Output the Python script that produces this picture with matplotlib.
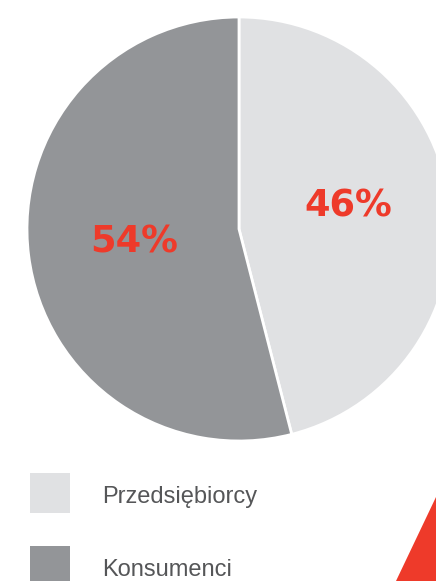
import matplotlib.pyplot as plt
from matplotlib.patches import Rectangle, Polygon

labels = ['Przedsiębiorcy', 'Konsumenci']
shares = [46, 54]
colors = ['#e0e1e3', '#939598']
accent = '#ee3a2a'

W, H = 436, 581

fig = plt.figure(figsize=(W / 100, H / 100), dpi=100)
ax = fig.add_axes([0, 0, 1, 1])

vals = iter(shares)
wedges, texts, pcts = ax.pie(
    shares, colors=colors, startangle=90, counterclock=False,
    radius=212, center=(239, H - 229),
    wedgeprops=dict(edgecolor='white', linewidth=2),
    autopct=lambda p: f'{next(vals)}%', pctdistance=0.5,
    textprops=dict(color=accent, fontsize=26.5, fontweight='bold',
                   family='DejaVu Sans'))
# lift the smaller slice label a little, like the original layout
x, y = pcts[0].get_position()
pcts[0].set_position((x + 4, y + 10))

ax.set_xlim(0, W)
ax.set_ylim(0, H)
ax.set_aspect('equal')
ax.axis('off')

# legend
for i, (lab, col) in enumerate(zip(labels, colors)):
    top = 473 + i * 73
    ax.add_patch(Rectangle((30, H - top - 40), 40, 40, color=col, lw=0))
    ax.text(102, H - (503 + i * 73), lab, fontsize=17, color='#555658',
            family='Liberation Sans', va='baseline', ha='left')

# red corner decoration
ax.add_patch(Polygon([(436, H - 497), (396, 0), (436, 0)], closed=True,
                     color=accent, lw=0, clip_on=False))

fig.savefig('out.png', dpi=100)
